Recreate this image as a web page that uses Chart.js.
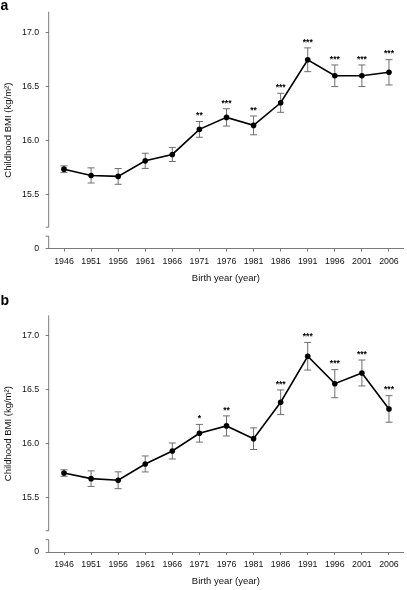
<!DOCTYPE html>
<html>
<head>
<meta charset="utf-8">
<script src="https://cdn.jsdelivr.net/npm/chart.js@4.4.1/dist/chart.umd.min.js"></script>
<style>
html,body{margin:0;padding:0;background:#fff;}
#wrap{position:relative;width:407px;height:590px;}
canvas{position:absolute;left:0;}
</style>
</head>
<body>
<div id="wrap">
    <canvas id="chartA" width="407" height="295" style="top:0"></canvas>
    <canvas id="chartB" width="407" height="295" style="top:295px"></canvas>
</div>
<script>
// birth years (x categories)
const years = [1946, 1951, 1956, 1961, 1966, 1971, 1976, 1981, 1986, 1991, 1996, 2001, 2006];

// panel a
const bmiA = [15.734, 15.676, 15.667, 15.811, 15.870, 16.102, 16.213, 16.139, 16.348, 16.746, 16.598, 16.598, 16.630];
const errA = [0.030, 0.070, 0.073, 0.070, 0.065, 0.073, 0.080, 0.087, 0.088, 0.110, 0.100, 0.100, 0.117];
const starsA = ['', '', '', '', '', '**', '***', '**', '***', '***', '***', '***', '***'];

// panel b
const bmiB = [15.731, 15.679, 15.664, 15.815, 15.935, 16.099, 16.167, 16.049, 16.386, 16.812, 16.558, 16.657, 16.324];
const errB = [0.030, 0.072, 0.078, 0.074, 0.074, 0.082, 0.093, 0.100, 0.114, 0.128, 0.130, 0.120, 0.123];
const starsB = ['', '', '', '', '', '*', '**', '', '***', '***', '***', '***', '***'];

// y ticks; the bottom one stands for 0 below the axis break
const yTickValues = [15.0, 15.5, 16.0, 16.5, 17.0];
const yTickLabels = ['0', '15.5', '16.0', '16.5', '17.0'];

const FONT = '"Liberation Sans", Arial, sans-serif';
const AXIS_COL = '#7a7a7a';
const TXT_COL = '#111';

function makeChart(id, panel, values, errs, stars, topPad, xHeight){
    const ctx = document.getElementById(id);

    const extras = {
        id: 'extras' + panel,
        beforeDatasetsDraw(chart){
            const c = chart.ctx;
            const xs = chart.scales.x, ys = chart.scales.y;
            const area = chart.chartArea;
            c.save();
            // y axis with break
            c.strokeStyle = AXIS_COL;
            c.lineWidth = 1;
            const g1 = ys.getPixelForValue(15.197);
            const g2 = ys.getPixelForValue(15.114);
            c.beginPath();
            c.moveTo(area.left, area.top); c.lineTo(area.left, g1);
            c.moveTo(area.left - 3, g1); c.lineTo(area.left, g1);
            c.moveTo(area.left, g2); c.lineTo(area.left, area.bottom);
            c.moveTo(area.left - 3, g2); c.lineTo(area.left, g2);
            c.stroke();
            // error bars
            c.strokeStyle = '#6e6e6e';
            values.forEach((v, i) => {
                const px = xs.getPixelForValue(years[i]);
                const hi = ys.getPixelForValue(v + errs[i]);
                const lo = ys.getPixelForValue(v - errs[i]);
                c.beginPath();
                c.moveTo(px, hi); c.lineTo(px, lo);
                c.moveTo(px - 3.5, hi); c.lineTo(px + 3.5, hi);
                c.moveTo(px - 3.5, lo); c.lineTo(px + 3.5, lo);
                c.stroke();
            });
            c.restore();
        },
        afterDraw(chart){
            const c = chart.ctx;
            const xs = chart.scales.x, ys = chart.scales.y;
            c.save();
            // significance stars
            c.fillStyle = '#000';
            c.font = 'bold 8.5px ' + FONT;
            c.textAlign = 'center';
            c.textBaseline = 'alphabetic';
            stars.forEach((s, i) => {
                if(!s) return;
                const px = xs.getPixelForValue(years[i]);
                const hi = ys.getPixelForValue(values[i] + errs[i]);
                c.fillText(s, px, hi - 3.2);
            });
            // panel letter
            c.font = 'bold 14px ' + FONT;
            c.textAlign = 'left';
            c.fillText(panel, 0.5, 10);
            c.restore();
        }
    };

    return new Chart(ctx, {
        type: 'line',
        data: {
            datasets: [{
                data: years.map((y, i) => ({x: y, y: values[i]})),
                borderColor: '#000',
                borderWidth: 1.6,
                pointRadius: 2.8,
                pointBackgroundColor: '#000',
                pointBorderWidth: 0,
                tension: 0
            }]
        },
        options: {
            responsive: false,
            animation: false,
            layout: {padding: {top: topPad, right: 4, left: 0, bottom: 0}},
            plugins: {legend: {display: false}, tooltip: {enabled: false}},
            scales: {
                x: {
                    type: 'linear',
                    min: 1943.175,
                    max: 2008.59,
                    afterBuildTicks: s => { s.ticks = years.map(v => ({value: v})); },
                    afterFit: s => { s.height = xHeight; },
                    border: {display: true, color: AXIS_COL, width: 1},
                    grid: {drawOnChartArea: false, tickLength: 3, color: AXIS_COL},
                    ticks: {
                        color: TXT_COL, font: {family: FONT, size: 8.8}, padding: 4.5,
                        autoSkip: false, maxRotation: 0,
                        callback: (v, i) => String(years[i])
                    },
                    title: {display: true, text: 'Birth year (year)', color: TXT_COL,
                        font: {family: FONT, size: 9.5}, padding: {top: 0, bottom: xHeight - 35.5}}
                },
                y: {
                    type: 'linear',
                    min: 15.0,
                    max: 17.19,
                    afterBuildTicks: s => { s.ticks = yTickValues.map(v => ({value: v})); },
                    afterFit: s => { s.width = 48.7; },
                    border: {display: false},
                    grid: {drawOnChartArea: false, tickLength: 3, color: AXIS_COL},
                    ticks: {
                        color: TXT_COL, font: {family: FONT, size: 8.8}, padding: 6.5,
                        callback: (v, i) => yTickLabels[i]
                    },
                    title: {display: true, text: 'Childhood BMI (kg/m²)', color: TXT_COL,
                        font: {family: FONT, size: 9.5}, padding: {top: 2.5, bottom: 0}}
                }
            }
        },
        plugins: [extras]
    });
}

makeChart('chartA', 'a', bmiA, errA, starsA, 11.7, 46.5);
makeChart('chartB', 'b', bmiB, errB, starsB, 20.4, 38);
</script>
</body>
</html>
